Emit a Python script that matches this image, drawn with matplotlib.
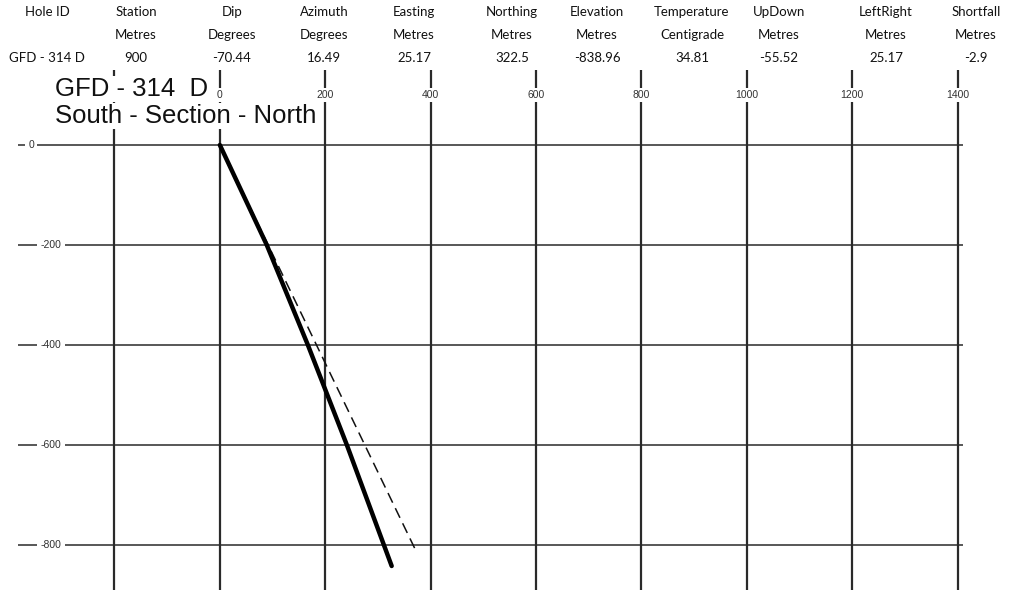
import matplotlib
matplotlib.use("Agg")
import matplotlib.pyplot as plt

# ---- data ----
headers = ["Hole ID", "Station", "Dip", "Azimuth", "Easting", "Northing",
           "Elevation", "Temperature", "UpDown", "LeftRight", "Shortfall"]
units = ["", "Metres", "Degrees", "Degrees", "Metres", "Metres",
         "Metres", "Centigrade", "Metres", "Metres", "Metres"]
values = ["GFD - 314 D", "900", "-70.44", "16.49", "25.17", "322.5",
          "-838.96", "34.81", "-55.52", "25.17", "-2.9"]

title_line1 = "GFD - 314  D"
title_line2 = "South - Section - North"

# actual hole trace (northing, elevation)
actual_north = [0, 89, 167, 241, 326]
actual_elev = [0, -200, -400, -600, -842]
# planned hole trace
planned_north = [0, 374]
planned_elev = [0, -816]

x_ticks = [-200, 0, 200, 400, 600, 800, 1000, 1200, 1400]
x_tick_labels = ["", "0", "200", "400", "600", "800", "1000", "1200", "1400"]
y_ticks = [0, -200, -400, -600, -800]
y_tick_labels = ["0", "-200", "-400", "-600", "-800"]

# ---- figure ----
W, H = 1016, 593
fig = plt.figure(figsize=(W / 100, H / 100), dpi=100)
fig.patch.set_facecolor("white")

ax_l, ax_r, ax_t, ax_b = 18, 963, 70, 590
ax = fig.add_axes([ax_l / W, 1 - ax_b / H, (ax_r - ax_l) / W, (ax_b - ax_t) / H])
ax.set_xlim(-383, 1410)
ax.set_ylim(-890, 150)
for s in ax.spines.values():
    s.set_visible(False)
ax.set_xticks([])
ax.set_yticks([])

grid_col = "#2a2a2a"
for xv in x_ticks:
    ax.axvline(xv, color=grid_col, lw=1.6, zorder=1)
for yv in y_ticks:
    ax.axhline(yv, color=grid_col, lw=1.1, zorder=1)

# x tick labels on the vertical lines
for xv, lab in zip(x_ticks, x_tick_labels):
    if lab:
        ax.text(xv, 100, lab, ha="center", va="center", fontsize=7.5,
                family="Liberation Sans", color="#333333", zorder=3,
                bbox=dict(facecolor="white", edgecolor="none", pad=1.5))

# y tick labels on the horizontal lines
for yv, lab in zip(y_ticks, y_tick_labels):
    xpos = -358 if lab == "0" else -320
    ax.text(xpos, yv, lab, ha="center", va="center", fontsize=7.5,
            family="Liberation Sans", color="#333333", zorder=3,
            bbox=dict(facecolor="white", edgecolor="none", pad=2.5))

# traces
ax.plot(planned_north, planned_elev, color="#111111", lw=1.1,
        dashes=(7, 4), zorder=4)
ax.plot(actual_north, actual_elev, color="#000000", lw=3.2,
        solid_capstyle="round", zorder=5)

# titles inside plot
ax.text(55 / W, 1 - 89 / H, title_line1, transform=fig.transFigure,
        ha="left", va="center", fontsize=18.5, family="Liberation Sans",
        color="#111111", zorder=6,
        bbox=dict(facecolor="white", edgecolor="none", pad=0.5))
ax.text(55 / W, 1 - 116 / H, title_line2, transform=fig.transFigure,
        ha="left", va="center", fontsize=18.5, family="Liberation Sans",
        color="#111111", zorder=6,
        bbox=dict(facecolor="white", edgecolor="none", pad=0.5))

# header table
col_x = [47, 136, 232, 324, 414, 512, 597, 692, 779, 886, 976]
row_y = [12, 35, 58]
for cx, h, u, v in zip(col_x, headers, units, values):
    for ry, t in zip(row_y, [h, u, v]):
        if t:
            fig.text(cx / W, 1 - ry / H, t, ha="center", va="center",
                     fontsize=9.5, family="Lato", color="#111111")

fig.savefig("out.png", dpi=100, facecolor="white")
